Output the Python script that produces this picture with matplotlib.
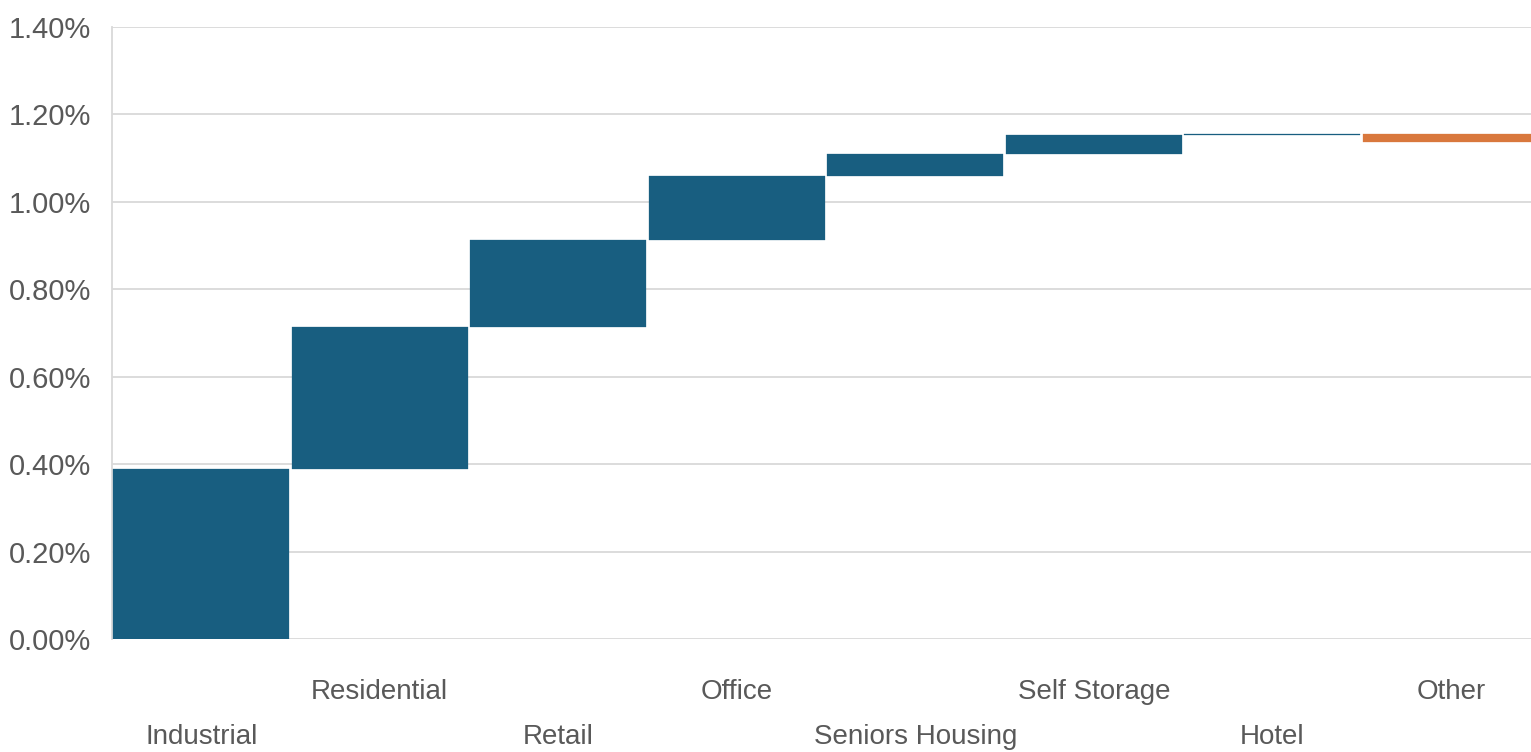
import matplotlib.pyplot as plt
import numpy as np
from matplotlib.ticker import FuncFormatter

plt.rcParams['font.family'] = ['Liberation Sans', 'DejaVu Sans']

categories = ['Industrial', 'Residential', 'Retail', 'Office',
              'Seniors Housing', 'Self Storage', 'Hotel', 'Other']
# contribution of each sector, in percentage points
changes = [0.390, 0.324, 0.198, 0.148, 0.049, 0.044, 0.003, -0.018]
y_ticks = [0.0, 0.2, 0.4, 0.6, 0.8, 1.0, 1.2, 1.4]

up_colour = '#185e80'
down_colour = '#d9783d'
text_colour = '#595959'
grid_colour = '#d9d9d9'

changes = np.array(changes)
ends = np.cumsum(changes)
starts = ends - changes
colours = [up_colour if c >= 0 else down_colour for c in changes]
x = np.arange(len(categories))

fig = plt.figure(figsize=(15.31, 7.52), dpi=100)
ax = fig.add_axes([112/1531, 113/752, 1428/1531, 612/752])

ax.bar(x, changes, bottom=starts, width=0.985, color=colours,
       edgecolor=colours, linewidth=0.2, zorder=3)

ax.set_xlim(-0.5, 7.5)
ax.set_ylim(0, 1.4)
ax.set_yticks(y_ticks)
ax.yaxis.set_major_formatter(FuncFormatter(lambda v, p: f'{v:.2f}%'))
ax.grid(axis='y', color=grid_colour, linewidth=1.3, zorder=0)

for side in ['top', 'right', 'bottom']:
    ax.spines[side].set_visible(False)
ax.spines['left'].set_color(grid_colour)
ax.spines['left'].set_linewidth(1.3)

ax.set_xticks(x)
ax.set_xticklabels(categories)
ax.tick_params(axis='both', length=0, labelsize=20, labelcolor=text_colour)
ax.tick_params(axis='y', labelsize=21, pad=15)

# labels alternate between two rows so they fit
for i, tick in enumerate(ax.xaxis.get_major_ticks()):
    tick.set_pad(61 if i % 2 == 0 else 29)

fig.savefig('out.png', dpi=100)
